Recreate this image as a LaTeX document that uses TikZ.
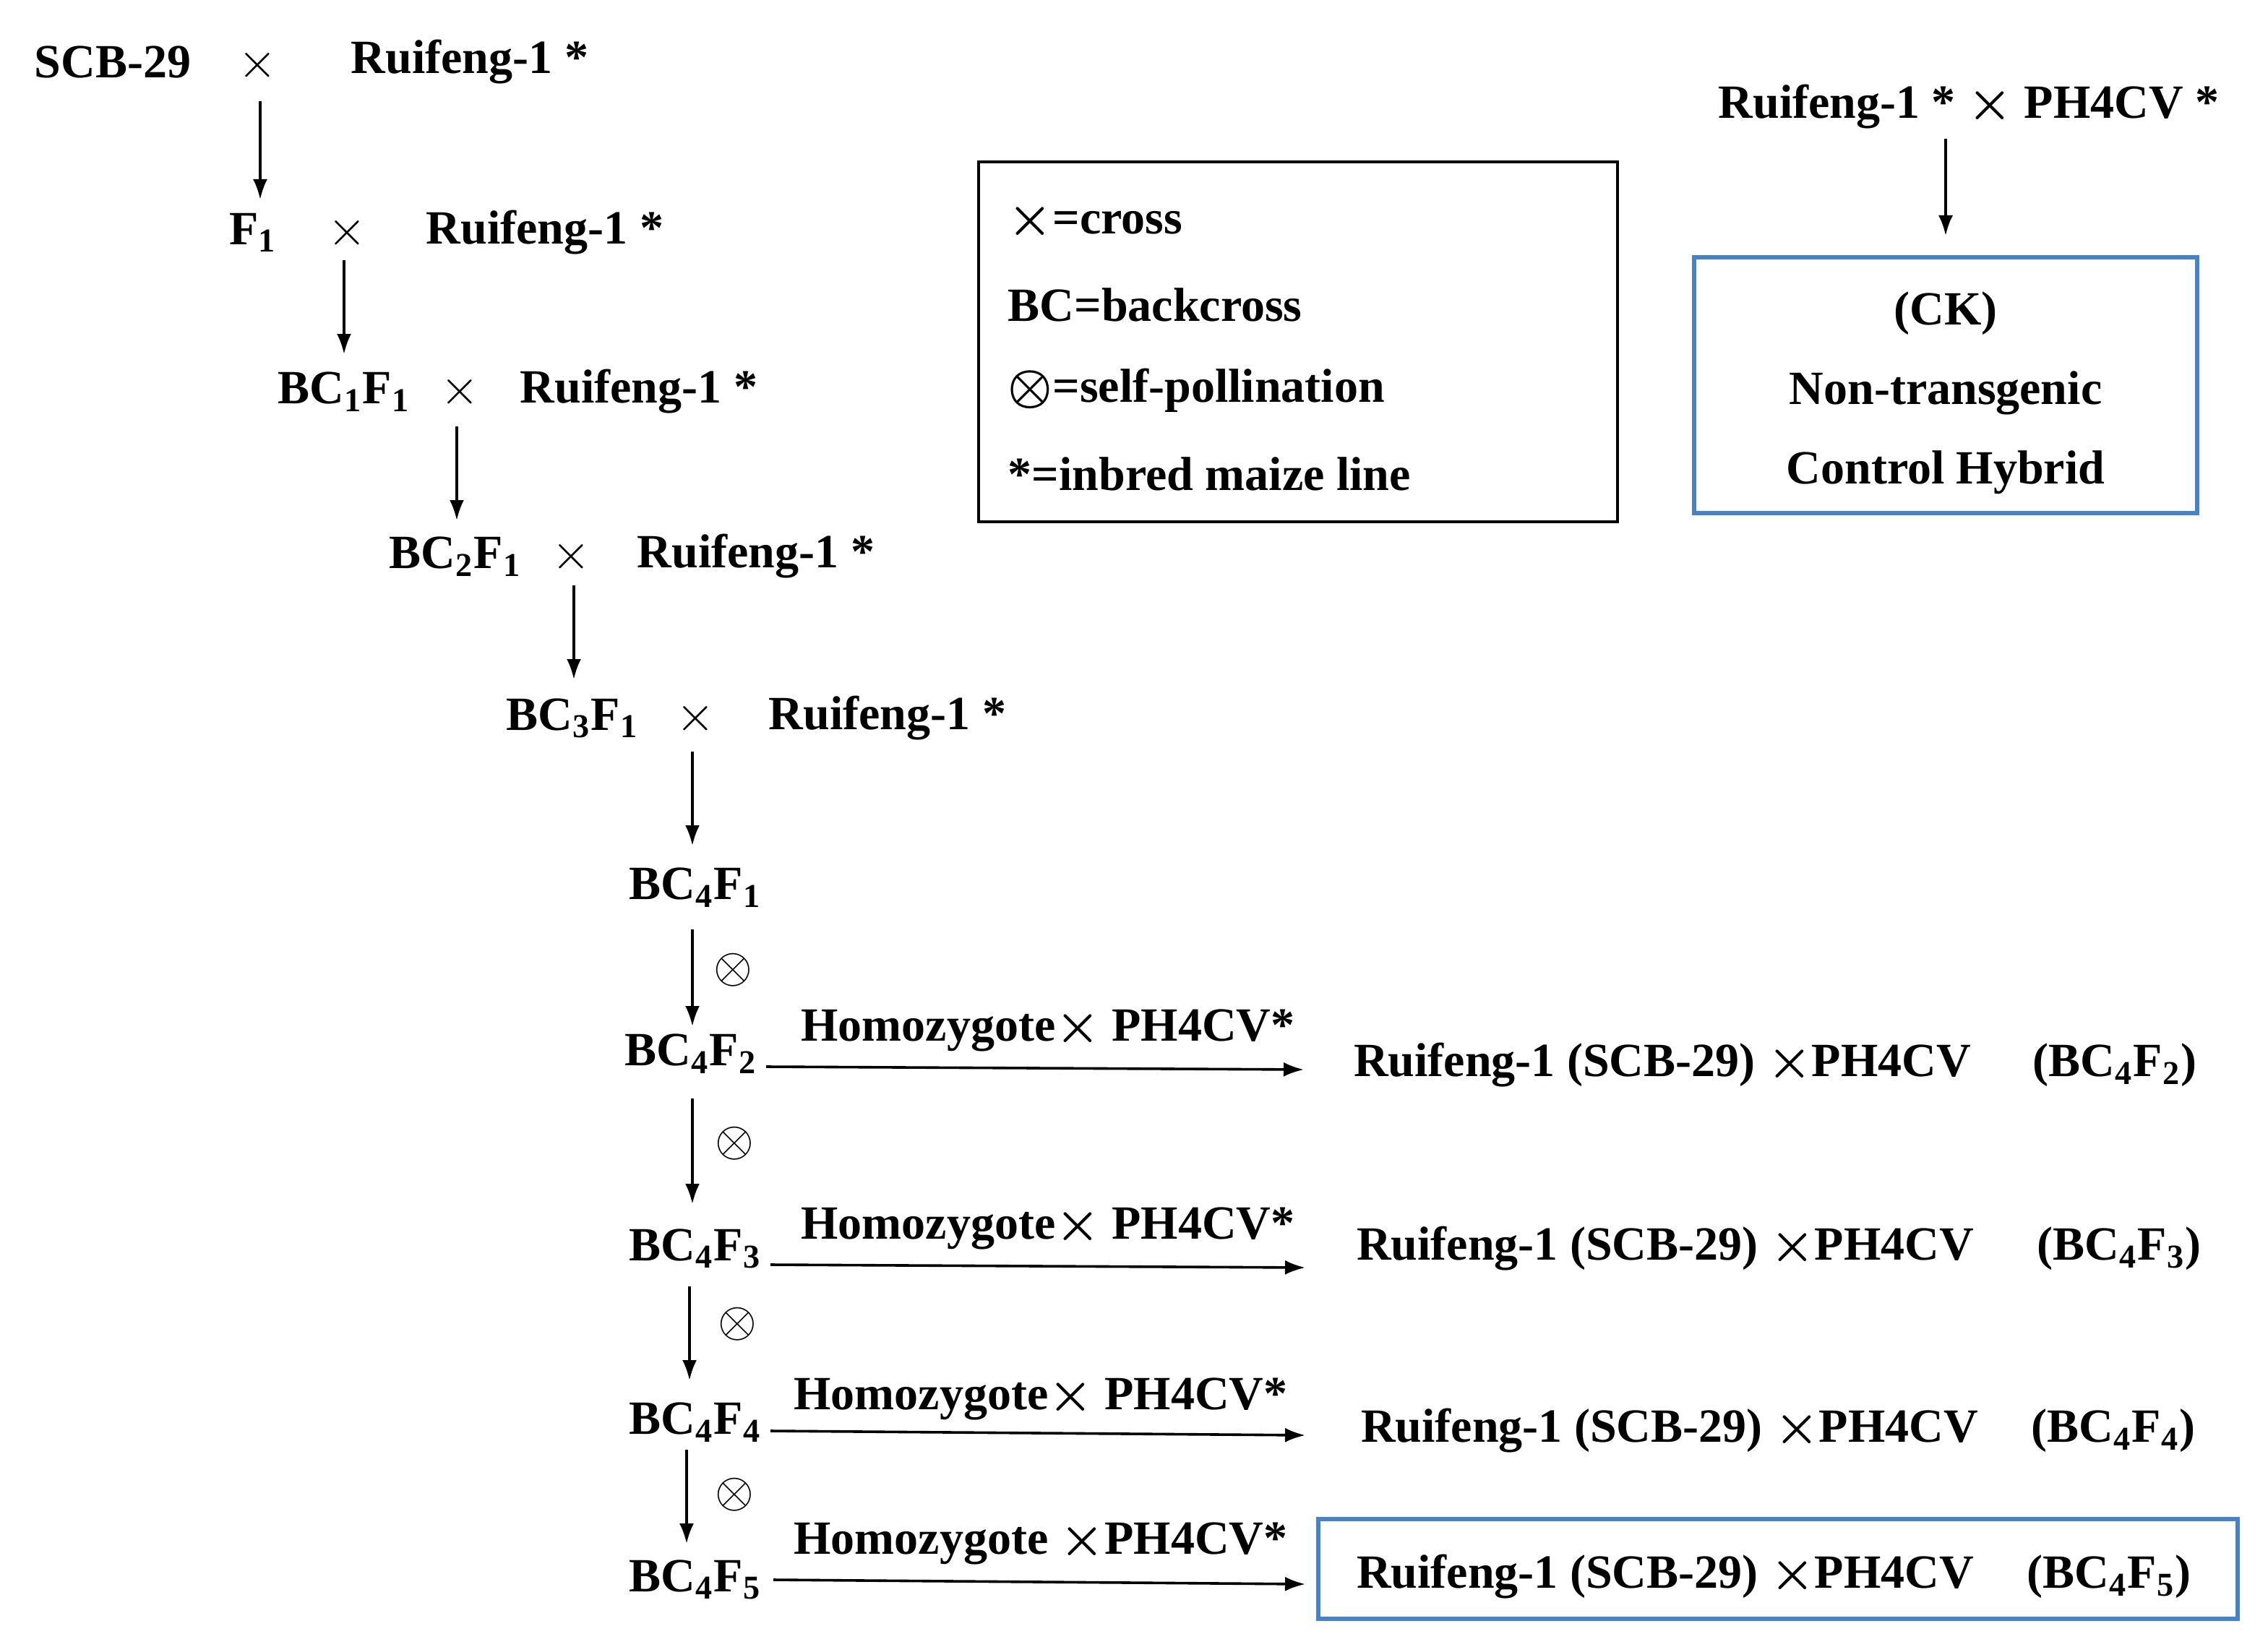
\documentclass[tikz,border=0pt]{standalone}
\usepackage{fontspec}
\usetikzlibrary{arrows.meta}
\setmainfont{Liberation Serif}
\definecolor{bblue}{RGB}{70,130,200}
\newcommand{\sbx}[1]{\textsubscript{#1}}
\begin{document}
\begin{tikzpicture}[x=0.5pt,y=-0.5pt,
  t/.style={font=\fontsize{16.5}{18}\selectfont\bfseries\boldmath,inner sep=1pt},
  s/.style={font=\fontsize{18}{18}\selectfont,inner sep=0pt},
  ar/.style={-{Latex[length=7pt,width=5pt]},line width=0.9pt}]
\useasboundingbox (0,0) rectangle (1569,1139.5);
% chain
\node[t] (a0) at (78,43) {SCB-29}; \node[s] (x0) at (178,45) {$\times$}; \node[t] (r0) at (325,43) {Ruifeng-1 *};
\coordinate (a0s) at (180,70); \coordinate (b1t) at (180,138);
\draw[ar] (a0s) -- (b1t);
\node[t] (b1) at (175,161) {F\sbx{1}}; \node[s] (x1) at (240,161) {$\times$}; \node[t] (r1) at (377,161) {Ruifeng-1 *};
\coordinate (c1) at (238,180); \coordinate (c2) at (238,245); \draw[ar] (c1) -- (c2);
\node[t] (b2) at (238,271) {BC\sbx{1}F\sbx{1}}; \node[s] (x2) at (318,271) {$\times$}; \node[t] (r2) at (442,271) {Ruifeng-1 *};
\coordinate (c3) at (316,295); \coordinate (c4) at (316,360); \draw[ar] (c3) -- (c4);
\node[t] (b3) at (315,385) {BC\sbx{2}F\sbx{1}}; \node[s] (x3) at (395,385) {$\times$}; \node[t] (r3) at (523,385) {Ruifeng-1 *};
\coordinate (c5) at (397,405); \coordinate (c6) at (397,470); \draw[ar] (c5) -- (c6);
\node[t] (b4) at (396,497) {BC\sbx{3}F\sbx{1}}; \node[s] (x4) at (481,497) {$\times$}; \node[t] (r4) at (614,497) {Ruifeng-1 *};
\coordinate (c7) at (479,520); \coordinate (c8) at (479,585); \draw[ar] (c7) -- (c8);
\node[t] (b5) at (481,614) {BC\sbx{4}F\sbx{1}};
\coordinate (c9) at (479,643); \coordinate (c10) at (479,710); \draw[ar] (c9) -- (c10);
\node[s] (o1) at (507,671) {$\otimes$};
% F2
\node[t] (b6) at (478,729) {BC\sbx{4}F\sbx{2}};
\coordinate (h1a) at (530,738); \coordinate (h1b) at (902,740); \draw[ar] (h1a) -- (h1b);
\node[t] (l1) at (725,713) {Homozygote$\times$ PH4CV*};
\node[t] (p1) at (1150,737) {Ruifeng-1 (SCB-29) $\times$PH4CV};
\node[t] (q1) at (1463,737) {(BC\sbx{4}F\sbx{2})};
\coordinate (c11) at (479,760); \coordinate (c12) at (479,833); \draw[ar] (c11) -- (c12);
\node[s] (o2) at (508,791) {$\otimes$};
% F3
\node[t] (b7) at (481,864) {BC\sbx{4}F\sbx{3}};
\coordinate (h2a) at (533,875); \coordinate (h2b) at (903,877); \draw[ar] (h2a) -- (h2b);
\node[t] (l2) at (725,850) {Homozygote$\times$ PH4CV*};
\node[t] (p2) at (1152,864) {Ruifeng-1 (SCB-29) $\times$PH4CV};
\node[t] (q2) at (1466,864) {(BC\sbx{4}F\sbx{3})};
\coordinate (c13) at (477,890); \coordinate (c14) at (477,955); \draw[ar] (c13) -- (c14);
\node[s] (o3) at (510,916) {$\otimes$};
% F4
\node[t] (b8) at (481,984) {BC\sbx{4}F\sbx{4}};
\coordinate (h3a) at (533,990); \coordinate (h3b) at (903,993); \draw[ar] (h3a) -- (h3b);
\node[t] (l3) at (720,968) {Homozygote$\times$ PH4CV*};
\node[t] (p3) at (1155,990) {Ruifeng-1 (SCB-29) $\times$PH4CV};
\node[t] (q3) at (1462,990) {(BC\sbx{4}F\sbx{4})};
\coordinate (c15) at (475,1003); \coordinate (c16) at (475,1068); \draw[ar] (c15) -- (c16);
\node[s] (o4) at (508,1034) {$\otimes$};
% F5
\node[t] (b9) at (481,1093) {BC\sbx{4}F\sbx{5}};
\coordinate (h4a) at (535,1093); \coordinate (h4b) at (903,1096); \draw[ar] (h4a) -- (h4b);
\node[t] (l4) at (720,1068) {Homozygote $\times$PH4CV*};
\draw[bblue,line width=1.3pt] (912,1051) rectangle (1548,1120);
\node[t] (p4) at (1152,1091) {Ruifeng-1 (SCB-29) $\times$PH4CV};
\node[t] (q4) at (1459,1091) {(BC\sbx{4}F\sbx{5})};
% legend
\draw[line width=1pt] (677,112) rectangle (1119,361);
\node[t,anchor=west] (g1) at (695,153) {$\times$=cross};
\node[t,anchor=west] (g2) at (695,211) {BC=backcross};
\node[t,anchor=west] (g3) at (695,270) {$\otimes$=self-pollination};
\node[t,anchor=west] (g4) at (695,328) {*=inbred maize line};
% control
\node[t] (k0) at (1362,74) {Ruifeng-1 * $\times$ PH4CV *};
\coordinate (k1) at (1346,96); \coordinate (k2) at (1346,163); \draw[ar] (k1) -- (k2);
\draw[bblue,line width=1.3pt] (1172,178) rectangle (1520,355);
\node[t] (k3) at (1346,217) {(CK)};
\node[t] (k4) at (1346,272) {Non-transgenic};
\node[t] (k5) at (1346,327) {Control Hybrid};
\end{tikzpicture}
\end{document}
